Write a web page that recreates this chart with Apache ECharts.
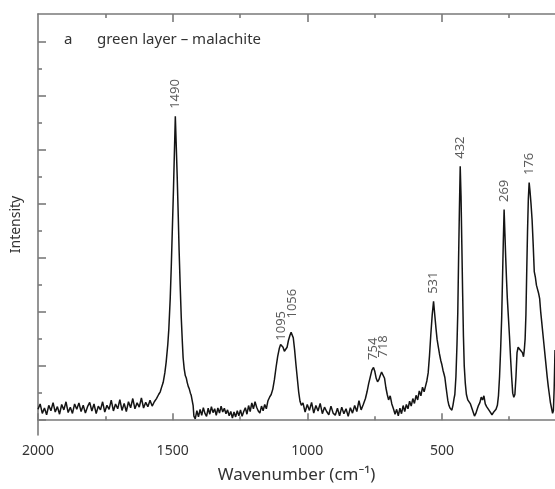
<!DOCTYPE html>
<html lang="en">

<head>
    <meta charset="UTF-8">
    <title>Raman spectrum - malachite</title>
    <script src="https://cdn.jsdelivr.net/npm/echarts@6/dist/echarts.min.js"></script>
    <style>
        body { margin: 0; background: #fff; }
        .box { width: 555px; height: 489px; }
    </style>
</head>

<body>
    <div class="box"></div>
</body>
<script>
    // spectrum (wavenumber cm-1, intensity a.u.)
    var wavenumber = [
        2000, 1992, 1984, 1976, 1968, 1960, 1952, 1944, 1936, 1928, 1920, 1912, 1904, 1896, 1888, 1880, 1872, 1864, 1856, 1848,
        1840, 1832, 1824, 1816, 1808, 1800, 1792, 1784, 1776, 1768, 1760, 1752, 1744, 1736, 1728, 1720, 1712, 1704, 1696, 1688,
        1680, 1672, 1664, 1656, 1648, 1640, 1632, 1624, 1616, 1608, 1600, 1592, 1584, 1576, 1568,
        1560, 1552, 1546, 1540, 1535, 1529, 1524, 1518, 1514, 1509, 1505, 1501, 1497, 1494, 1490, 1487, 1483, 1479, 1476, 1472,
        1468, 1464, 1461, 1457, 1453, 1449, 1446, 1442, 1438, 1434, 1431, 1427, 1424, 1421,
        1416, 1410, 1404, 1398, 1392, 1386, 1380, 1374, 1368, 1362, 1356, 1350, 1344, 1338, 1332, 1326, 1320, 1314, 1308, 1302,
        1296, 1290, 1284, 1278, 1272, 1266, 1260, 1254, 1248, 1242, 1236, 1230, 1224, 1218, 1212, 1206, 1200, 1194, 1188, 1182,
        1176, 1170, 1164, 1158, 1152, 1146, 1140,
        1134, 1128, 1122, 1116, 1110, 1104, 1099, 1095, 1090, 1085, 1080, 1075, 1070, 1064, 1060, 1056, 1052, 1047, 1042, 1037,
        1032, 1027, 1022,
        1016, 1008, 1000, 992, 984, 976, 968, 960, 952, 944, 936, 928, 920, 912, 904, 896, 888, 880, 872, 864,
        856, 848, 840, 832, 824, 816, 808, 800, 792, 784,
        778, 772, 766, 760, 754, 749, 744, 739, 734, 729, 724, 718, 713, 708, 703, 698,
        692, 686, 680, 674, 668, 662, 656, 650, 644, 638, 632, 626, 620, 614, 608, 602, 596, 590, 584, 578,
        572, 566, 561, 556, 551, 546, 541, 536, 531, 527, 522, 518, 514, 509, 504, 500, 496, 492, 489, 485,
        481, 478, 474, 470, 466, 463, 459, 455, 452, 448, 444, 441, 438, 435, 432, 429, 426, 423, 420, 417,
        413, 409, 404, 399, 394, 389, 384, 379, 374, 369, 364, 359, 354, 349, 344, 339, 334, 329, 324, 319,
        314, 309, 304, 299, 294, 290, 286, 282, 278, 275, 272, 269, 266, 263, 260, 257, 253, 249, 245, 241,
        237, 233, 229, 225, 221, 217, 213, 209, 205, 201, 197, 194, 191, 188, 185, 182, 179, 176, 173, 169,
        165, 161, 157, 153, 149, 145, 141, 137, 133, 129, 125, 121, 117, 113, 109, 105, 101, 97, 93, 89,
        86, 83, 80
    ];
    var intensity = [
        0.40, 0.60, 0.25, 0.45, 0.20, 0.55, 0.35, 0.65, 0.30, 0.50, 0.22, 0.58, 0.38, 0.68, 0.28, 0.48, 0.25, 0.60, 0.40, 0.64,
        0.32, 0.55, 0.26, 0.50, 0.66, 0.34, 0.60, 0.24, 0.52, 0.38, 0.68, 0.30, 0.55, 0.40, 0.74, 0.34, 0.60, 0.42, 0.76, 0.36,
        0.62, 0.32, 0.68, 0.46, 0.80, 0.42, 0.64, 0.48, 0.82, 0.45, 0.66, 0.50, 0.74, 0.52, 0.68,
        0.80, 0.95, 1.05, 1.25, 1.40, 1.75, 2.15, 2.80, 3.40, 4.50, 5.70, 7.10, 8.50, 9.70, 11.25, 10.3, 9.00, 7.50, 6.30, 5.00,
        3.80, 2.90, 2.30, 1.90, 1.65, 1.55, 1.40, 1.25, 1.15, 1.00, 0.92, 0.90, 0.55, 0.15,
        0.05, 0.35, 0.12, 0.40, 0.18, 0.46, 0.25, 0.14, 0.44, 0.22, 0.50, 0.28, 0.42, 0.18, 0.45, 0.26, 0.52, 0.30, 0.44, 0.24,
        0.38, 0.16, 0.32, 0.08, 0.30, 0.12, 0.35, 0.16, 0.38, 0.14, 0.32, 0.46, 0.22, 0.54, 0.32, 0.64, 0.42, 0.68, 0.48, 0.34,
        0.26, 0.52, 0.35, 0.58, 0.42, 0.72, 0.85,
        0.95, 1.15, 1.50, 1.95, 2.35, 2.65, 2.80, 2.85, 2.70, 2.55, 2.48, 2.70, 2.95, 3.15, 3.25, 3.30, 3.05, 2.60, 2.05, 1.55,
        1.05, 0.70, 0.55,
        0.64, 0.30, 0.58, 0.36, 0.66, 0.26, 0.54, 0.34, 0.62, 0.24, 0.48, 0.32, 0.20, 0.52, 0.26, 0.18, 0.44, 0.16, 0.48, 0.24,
        0.42, 0.14, 0.46, 0.26, 0.54, 0.32, 0.72, 0.38, 0.58, 0.80,
        1.05, 1.35, 1.60, 1.85, 1.95, 1.80, 1.55, 1.42, 1.50, 1.65, 1.78, 1.82, 1.55, 1.20, 0.95, 0.75,
        0.90, 0.60, 0.42, 0.22, 0.40, 0.16, 0.44, 0.24, 0.54, 0.32, 0.58, 0.42, 0.70, 0.52, 0.80, 0.62, 0.92, 0.75, 1.08, 0.90,
        1.22, 1.05, 1.25, 1.45, 1.75, 2.40, 3.20, 3.90, 4.40, 3.95, 3.40, 3.00, 2.75, 2.45, 2.20, 2.05, 1.85, 1.70, 1.58, 1.25,
        0.95, 0.73, 0.55, 0.45, 0.40, 0.37, 0.55, 0.80, 0.95, 1.60, 2.80, 4.00, 6.00, 7.80, 9.40, 8.30, 6.50, 4.70, 3.10, 2.00,
        1.35, 0.95, 0.75, 0.70, 0.60, 0.45, 0.30, 0.15, 0.25, 0.40, 0.55, 0.65, 0.85, 0.75, 0.90, 0.60, 0.50, 0.55, 0.35, 0.30,
        0.20, 0.28, 0.22, 0.40, 0.55, 0.90, 1.60, 2.60, 3.80, 5.20, 6.60, 7.80, 6.90, 6.00, 5.20, 4.50, 3.80, 3.10, 2.30, 1.60,
        1.00, 0.85, 0.95, 1.60, 2.50, 2.70, 2.65, 2.60, 2.55, 2.50, 2.35, 2.60, 3.00, 3.90, 5.50, 7.00, 8.20, 8.80, 8.50, 8.00,
        7.40, 6.50, 5.50, 5.30, 5.00, 4.85, 4.70, 4.50, 4.00, 3.60, 3.20, 2.80, 2.40, 2.00, 1.60, 1.25, 0.95, 0.65, 0.45, 0.25,
        0.35, 1.20, 2.60
    ];

    // labelled bands
    var peakPos = [1490, 1095, 1056, 754, 718, 531, 432, 269, 176];
    var peakText = ['1490', '1095', '1056', '754', '718', '531', '432', '269', '176'];

    // axis ticks
    var xMajor = [500, 1000, 1500, 2000];
    var xMinor = [250, 750, 1250, 1750];
    var yMajor = [0, 2, 4, 6, 8, 10, 12, 14];
    var yMinor = [1, 3, 5, 7, 9, 11, 13];

    // small sideways nudges so crowded labels sit as in the figure (px)
    var nudge = { '1095': -5, '1056': 5, '718': 6 };

    var spectrum = wavenumber.map(function (w, i) { return [w, intensity[i]]; });
    var peaks = peakPos.map(function (p, i) {
        var k = wavenumber.indexOf(p);
        return {
            name: peakText[i],
            value: [p, intensity[k]],
            label: { offset: [nudge[peakText[i]] || 0, 0] }
        };
    });

    var frame = { color: '#7a7a7a', width: 1.6 };
    var font = 'Noto Sans';

    function xAx(pos, ticks, len, showLine, labels) {
        return {
            type: 'value', position: pos, min: 80, max: 2000, inverse: true,
            axisLine: { show: showLine, lineStyle: frame },
            axisTick: { show: true, inside: true, length: len, customValues: ticks, lineStyle: frame },
            axisLabel: labels ? {
                show: true, customValues: labels, margin: 9, fontSize: 14, color: '#333', fontFamily: font,
                formatter: function (v) { return String(v); }
            } : { show: false },
            splitLine: { show: false }
        };
    }
    function yAx(ticks, len, showLine) {
        return {
            type: 'value', position: 'left', min: -0.55, max: 15.04,
            axisLine: { show: showLine, lineStyle: frame },
            axisTick: { show: true, inside: true, length: len, customValues: ticks, lineStyle: frame },
            axisLabel: { show: false },
            splitLine: { show: false }
        };
    }

    var xBottom = xAx('bottom', xMajor, 7, true, xMajor);
    xBottom.name = 'Wavenumber (cm⁻¹)';
    xBottom.nameLocation = 'middle';
    xBottom.nameGap = 32;
    xBottom.nameTextStyle = { fontSize: 17, color: '#333', fontFamily: font };

    var yLeft = yAx(yMajor, 8, true);
    yLeft.name = 'Intensity';
    yLeft.nameLocation = 'middle';
    yLeft.nameGap = 15;
    yLeft.nameTextStyle = { fontSize: 14, color: '#333', fontFamily: font };

    var chart = echarts.init(document.querySelector('.box'));
    chart.setOption({
        animation: false,
        grid: { left: 38, right: 0, top: 14, bottom: 51 },
        xAxis: [xBottom, xAx('bottom', xMinor, 4, false), xAx('top', [500, 1000, 1500], 8, true), xAx('top', xMinor, 4, false)],
        yAxis: [yLeft, yAx(yMinor, 4, false)],
        graphic: [
            { type: 'text', left: 64, top: 32, style: { text: 'a', font: '15px "Noto Sans"', fill: '#333' } },
            { type: 'text', left: 97, top: 32, style: { text: 'green layer – malachite', font: '15px "Noto Sans"', fill: '#333' } }
        ],
        series: [{
            type: 'line',
            data: spectrum,
            showSymbol: false,
            lineStyle: { color: '#141414', width: 1.5 }
        }, {
            type: 'scatter',
            data: peaks,
            symbolSize: 1,
            itemStyle: { color: 'rgba(0,0,0,0)' },
            label: {
                show: true, position: 'top', distance: 7, rotate: 90,
                align: 'left', verticalAlign: 'middle',
                formatter: '{b}', fontSize: 13, color: '#333', fontFamily: font
            }
        }]
    });
</script>

</html>
